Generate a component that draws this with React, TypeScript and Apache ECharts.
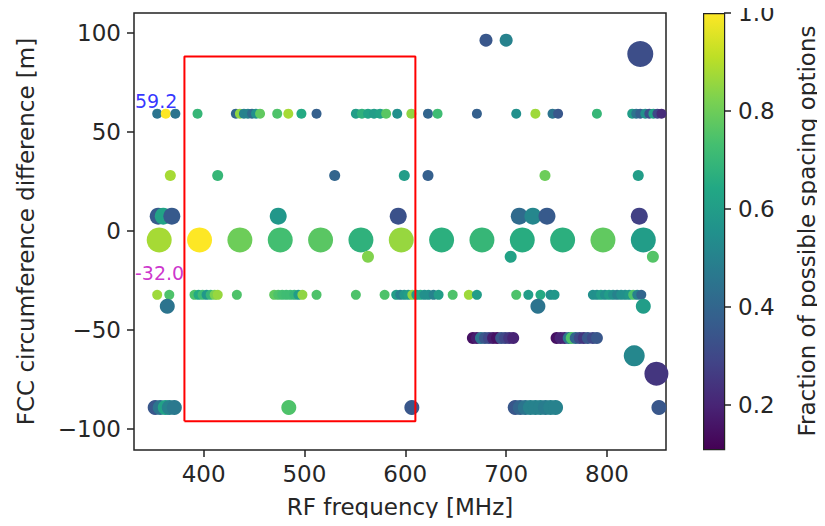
import React, { useEffect, useRef } from "react";
import * as echarts from "echarts";

// ---- Data ----
// circumference-difference levels [m] and marker size per level
const diffLevels = [96.3, 89.3, 59.2, 28, 7.5, -4.5, -13, -32.2, -38, -54, -63, -72, -89];
const levelMarker = [13, 26, 10, 11, 17, 25, 12, 10, 15, 12, 21, 24, 15];

const freqL0 = [680, 700];
const fracL0 = [0.35, 0.5];
const freqL1 = [833];
const fracL1 = [0.32];
const freqL2 = [354, 362.5, 372, 394, 432, 436, 440, 444, 448, 452, 456, 473, 484, 497, 512,
  551, 557, 563, 569, 575, 581, 592, 606, 622.5, 632, 671, 710, 729, 746, 751.5, 790,
  825, 829, 833, 838, 842, 846, 850, 854];
const fracL2 = [0.45, 1.0, 0.45, 0.7, 0.4, 0.85, 0.5, 0.5, 0.42, 0.55, 0.78, 0.75, 0.88, 0.65, 0.38,
  0.6, 0.68, 0.63, 0.6, 0.62, 0.77, 0.55, 0.85, 0.4, 0.72, 0.38, 0.55, 0.87, 0.45, 0.35, 0.7,
  0.6, 0.45, 0.38, 0.55, 0.32, 0.62, 0.3, 0.22];
const freqL3 = [367, 414, 530, 599, 622.5, 738.5, 831];
const fracL3 = [0.88, 0.7, 0.4, 0.6, 0.38, 0.8, 0.6];
const freqL4 = [355, 360, 368.5, 474, 593, 713, 726.5, 740.5, 832];
const fracL4 = [0.36, 0.62, 0.36, 0.58, 0.33, 0.42, 0.52, 0.36, 0.28];
const freqL5 = [356, 396, 436, 476, 516, 556, 596, 636, 676, 716, 756, 796, 836];
const fracL5 = [0.88, 1.0, 0.8, 0.73, 0.77, 0.68, 0.86, 0.67, 0.7, 0.66, 0.67, 0.78, 0.6];
const freqL6 = [563, 704.5, 845.5];
const fracL6 = [0.83, 0.62, 0.76];
const freqL7 = [354, 366, 391, 395, 399, 403, 407, 411, 414, 433, 470, 474, 478, 482, 486, 490, 494, 498,
  512, 551, 579.5, 591, 595, 599, 603, 607, 611, 615, 619, 623, 628, 633, 647, 663, 671,
  710, 722, 734, 744, 748, 786, 790, 794, 798, 802, 806, 810, 814, 818, 822, 826, 830, 834];
const fracL7 = [0.87, 0.75, 0.75, 0.65, 0.72, 0.58, 0.7, 0.82, 0.86, 0.75, 0.78, 0.75, 0.73, 0.72, 0.72, 0.7, 0.6, 0.85,
  0.75, 0.75, 0.75, 0.6, 0.5, 0.58, 0.6, 0.85, 0.6, 0.65, 0.55, 0.55, 0.5, 0.6, 0.75, 0.87, 0.6,
  0.75, 0.6, 0.65, 0.55, 0.58, 0.55, 0.55, 0.6, 0.55, 0.6, 0.55, 0.5, 0.55, 0.55, 0.58, 0.75, 0.5, 0.4];
const freqL8 = [364, 731.5, 836];
const fracL8 = [0.45, 0.45, 0.6];
const freqL9 = [667, 671, 675, 679, 683, 687, 691, 695, 699, 703, 707,
  750, 754, 758, 762, 765, 769, 773, 777, 781, 786, 790];
const fracL9 = [0.15, 0.18, 0.45, 0.35, 0.3, 0.18, 0.15, 0.35, 0.3, 0.25, 0.2,
  0.15, 0.2, 0.2, 0.45, 0.75, 0.4, 0.3, 0.25, 0.35, 0.3, 0.35];
const freqL10 = [827];
const fracL10 = [0.52];
const freqL11 = [849];
const fracL11 = [0.25];
const freqL12 = [352, 357, 362, 366, 371, 484.5, 606.5, 709, 714, 719, 724, 729, 734, 739, 744, 749, 851.5];
const fracL12 = [0.35, 0.45, 0.62, 0.5, 0.47, 0.75, 0.35, 0.35, 0.4, 0.45, 0.5, 0.5, 0.5, 0.48, 0.5, 0.5, 0.35];

const levelFreqs = [freqL0, freqL1, freqL2, freqL3, freqL4, freqL5, freqL6, freqL7, freqL8, freqL9, freqL10, freqL11, freqL12];
const levelFracs = [fracL0, fracL1, fracL2, fracL3, fracL4, fracL5, fracL6, fracL7, fracL8, fracL9, fracL10, fracL11, fracL12];

// highlighted window (red box) corners [MHz, m]
const boxX = [381, 610];
const boxY = [-96, 88];

// annotations
const annotations: [number, number, string, string][] = [
  [332, 60.6, "59.2", "#0000ff"],
  [332, -25.8, "-32.0", "#bf00bf"],
];

const xTicks = [400, 500, 600, 700, 800];
const yTicks = [-100, -50, 0, 50, 100];
const cbTicks = [0.2, 0.4, 0.6, 0.8, 1.0];
const fracMin = 0.11;
const fracMax = 1.0;

const VIRIDIS = ["#440154", "#482475", "#414487", "#355f8d", "#2a788e", "#21918c",
  "#22a884", "#44bf70", "#7ad151", "#bddf26", "#fde725"];

const FONT = "DejaVu Sans";
const TXT = "#262626";
const FS = 23;

export default function App() {
  const ref = useRef<HTMLDivElement>(null);
  useEffect(() => {
    if (!ref.current) return;
    const chart = echarts.init(ref.current, null, { renderer: "svg" });

    const points: number[][] = [];
    levelFreqs.forEach((fs, i) => {
      fs.forEach((f, j) => points.push([f, diffLevels[i], levelFracs[i][j], levelMarker[i]]));
    });

    const boxLine = [
      [boxX[0], boxY[0]], [boxX[0], boxY[1]], [boxX[1], boxY[1]], [boxX[1], boxY[0]], [boxX[0], boxY[0]],
    ];

    const fmtMinus = (v: number) => String(v).replace("-", "\u2212");

    chart.setOption({
      animation: false,
      backgroundColor: "#ffffff",
      textStyle: { fontFamily: FONT },
      grid: [
        { left: 134, top: 13, width: 532, height: 437, show: true, borderColor: "#222", borderWidth: 1.5,
          backgroundColor: "transparent", outerBoundsMode: "none", containLabel: false },
        { left: 703, top: 13, width: 21, height: 436, show: false, outerBoundsMode: "none", containLabel: false },
      ],
      xAxis: [
        {
          gridIndex: 0, type: "value", min: 331, max: 858.5,
          name: "RF frequency [MHz]", nameLocation: "middle", nameGap: 45,
          nameTextStyle: { fontSize: FS, color: TXT, fontFamily: FONT },
          axisLine: { show: false, onZero: false },
          splitLine: { show: false },
          axisTick: { show: true, length: 7, lineStyle: { color: "#222", width: 1.5 }, customValues: xTicks },
          axisLabel: { fontSize: FS, color: TXT, fontFamily: FONT, margin: 12, customValues: xTicks },
        },
        { gridIndex: 1, type: "value", show: false, min: 0, max: 1 },
      ],
      yAxis: [
        {
          gridIndex: 0, type: "value", min: -110.5, max: 110,
          name: "FCC circumference difference [m]", nameLocation: "middle", nameGap: 97,
          nameTextStyle: { fontSize: FS, color: TXT, fontFamily: FONT },
          axisLine: { show: false, onZero: false },
          splitLine: { show: false },
          axisTick: { show: true, length: 7, lineStyle: { color: "#222", width: 1.5 }, customValues: yTicks },
          axisLabel: { fontSize: FS, color: TXT, fontFamily: FONT, margin: 13, customValues: yTicks, formatter: fmtMinus },
        },
        {
          gridIndex: 1, type: "value", min: fracMin, max: fracMax, position: "right",
          name: "Fraction of possible spacing options", nameLocation: "middle", nameGap: 71, nameRotate: 90,
          nameTextStyle: { fontSize: FS, color: TXT, fontFamily: FONT },
          axisLine: { show: false, onZero: false },
          splitLine: { show: false },
          axisTick: { show: true, length: 7, lineStyle: { color: "#222", width: 1.5 }, customValues: cbTicks },
          axisLabel: { fontSize: FS, color: TXT, fontFamily: FONT, margin: 14, customValues: cbTicks, formatter: (v: number) => v.toFixed(1) },
        },
      ],
      visualMap: {
        show: false, type: "continuous", dimension: 2, min: fracMin, max: fracMax,
        seriesIndex: 0, inRange: { color: VIRIDIS },
      },
      graphic: [
        {
          type: "rect", left: 703, top: 13, z: 1,
          shape: { width: 21, height: 436 },
          style: {
            fill: new echarts.graphic.LinearGradient(0, 1, 0, 0,
              VIRIDIS.map((c, i) => ({ offset: i / (VIRIDIS.length - 1), color: c }))),
            stroke: "#222", lineWidth: 1.2,
          },
        },
      ],
      series: [
        {
          type: "scatter", xAxisIndex: 0, yAxisIndex: 0,
          data: points,
          symbol: "circle",
          symbolSize: (v: number[]) => v[3],
          itemStyle: { opacity: 1 },
          z: 2,
        },
        {
          type: "line", xAxisIndex: 0, yAxisIndex: 0,
          data: boxLine, symbol: "none", silent: true,
          lineStyle: { color: "#ff0000", width: 2 },
          z: 5,
        },
        {
          type: "scatter", xAxisIndex: 0, yAxisIndex: 0,
          data: annotations.map((a) => ({
            value: [a[0], a[1]],
            label: { show: true, formatter: a[2], color: a[3] },
          })),
          symbolSize: 0,
          itemStyle: { color: "transparent" },
          label: { show: true, position: [0, 0], align: "left", verticalAlign: "bottom", fontSize: 19, fontFamily: FONT },
          silent: true,
          z: 6,
        },
      ],
    });
    return () => chart.dispose();
  }, []);
  return <div ref={ref} style={{ width: 825, height: 526, margin: -8 }} />;
}
